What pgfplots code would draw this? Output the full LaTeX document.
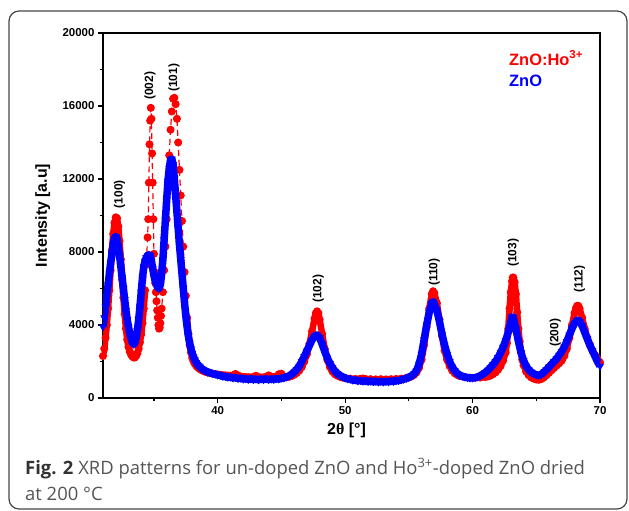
\documentclass[border=0pt]{standalone}
\usepackage{pgfplots}
\pgfplotsset{compat=1.18}
\usepackage{pgfplotstable}
\usepackage{fontspec}
\setmainfont{Liberation Sans}
\newfontfamily\serifgr{Liberation Serif}
\newfontfamily\capfont{Open Sans}
\definecolor{capgray}{RGB}{85,85,85}
\definecolor{figgray}{RGB}{50,50,50}
\definecolor{framegray}{RGB}{70,70,70}

\pgfplotstableread{
x y
31.0 2300
31.1 2700
31.2 3300
31.3 4000
31.4 4900
31.5 5900
31.6 7000
31.7 8100
31.8 9000
31.9 9600
32.0 9900
32.1 9850
32.2 9400
32.3 8600
32.4 7600
32.5 6500
32.6 5500
32.7 4600
32.8 3800
32.9 3200
33.0 2800
33.1 2550
33.2 2380
33.3 2280
33.4 2220
33.5 2220
33.6 2300
33.7 2450
33.8 2700
33.9 3050
34.0 3500
34.1 4100
34.2 4900
34.3 5900
34.4 7300
34.5 8800
34.55 9800
34.6 11800
34.65 13900
34.7 15200
34.75 15900
34.8 15300
34.85 13400
34.9 11800
34.95 9800
35.0 7900
35.05 6900
35.1 6300
35.15 5800
35.2 5300
35.25 4800
35.3 4400
35.35 4000
35.4 3800
35.45 3850
35.5 4100
35.55 4500
35.6 4900
35.7 5800
35.8 7000
35.9 8300
36.0 9800
36.1 11600
36.2 13300
36.3 14700
36.4 15700
36.5 16400
36.6 16450
36.7 16100
36.8 15300
36.9 14000
37.0 12500
37.1 11100
37.2 9700
37.3 8300
37.4 6900
37.5 5600
37.6 4400
37.7 3500
37.8 2900
37.9 2500
38.0 2200
38.1 2020
38.2 1880
38.3 1780
38.4 1700
38.5 1640
38.6 1580
38.8 1500
39.0 1440
39.2 1400
39.4 1360
39.6 1340
39.8 1310
40.0 1290
40.2 1270
40.4 1250
40.6 1240
40.8 1230
41.0 1220
41.2 1250
41.4 1320
41.6 1230
41.8 1180
42.0 1160
42.2 1150
42.4 1140
42.6 1130
42.8 1150
43.0 1220
43.2 1150
43.4 1130
43.6 1130
43.8 1160
44.0 1240
44.2 1160
44.4 1150
44.6 1180
44.8 1300
45.0 1330
45.2 1180
45.4 1150
45.6 1160
45.8 1200
46.0 1270
46.2 1370
46.4 1500
46.6 1700
46.8 2000
47.0 2400
47.2 2950
47.4 3650
47.6 4350
47.7 4650
47.8 4750
47.9 4650
48.0 4300
48.2 3500
48.4 2700
48.6 2100
48.8 1700
49.0 1450
49.2 1300
49.4 1220
49.6 1160
49.8 1120
50.0 1090
50.4 1060
50.8 1040
51.2 1050
51.4 1070
51.6 1040
52.0 1030
52.4 1020
52.8 1030
53.2 1020
53.6 1030
54.0 1040
54.4 1060
54.8 1100
55.0 1130
55.2 1180
55.4 1260
55.6 1400
55.8 1650
56.0 2100
56.2 2900
56.4 3900
56.6 4900
56.8 5700
56.9 5850
57.0 5750
57.2 5200
57.4 4300
57.6 3400
57.8 2600
58.0 2100
58.2 1750
58.4 1500
58.6 1350
58.8 1260
59.0 1200
59.4 1150
59.8 1120
60.2 1110
60.6 1120
61.0 1150
61.2 1180
61.4 1230
61.6 1300
61.8 1400
62.0 1550
62.2 1750
62.4 2050
62.6 2500
62.7 3000
62.8 3800
62.9 4900
63.0 5800
63.1 6400
63.15 6600
63.2 6600
63.3 6350
63.4 5700
63.5 4700
63.6 3800
63.7 3100
63.8 2500
63.9 2100
64.0 1800
64.2 1450
64.4 1250
64.6 1130
64.8 1060
65.0 1010
65.2 1000
65.4 1040
65.6 1130
65.8 1250
66.0 1380
66.2 1520
66.4 1650
66.6 1780
66.8 1900
67.0 2050
67.2 2300
67.4 2700
67.6 3300
67.8 4000
68.0 4650
68.1 4900
68.2 5050
68.3 5050
68.4 4900
68.6 4400
68.8 3800
69.0 3300
69.2 2900
69.4 2600
69.6 2350
69.8 2150
70.0 1950
}\redtable

\pgfplotstableread{
x y
31.0 3900
31.1 4400
31.2 5000
31.3 5600
31.4 6200
31.5 6800
31.6 7400
31.7 7900
31.8 8400
31.9 8750
32.0 8850
32.1 8700
32.2 8300
32.3 7800
32.4 7200
32.5 6600
32.6 6000
32.7 5400
32.8 4800
32.9 4300
33.0 3900
33.1 3550
33.2 3250
33.3 3050
33.4 2950
33.5 3000
33.6 3300
33.7 3700
33.8 4300
33.9 5000
34.0 5800
34.1 6600
34.2 7200
34.3 7500
34.4 7700
34.5 7800
34.6 7850
34.7 7800
34.8 7500
34.9 7100
35.0 6700
35.1 6400
35.2 6200
35.3 6050
35.4 6000
35.5 6200
35.6 6800
35.7 7600
35.8 8700
35.9 9800
36.0 10900
36.1 11900
36.2 12600
36.3 13050
36.4 13100
36.5 12800
36.6 12000
36.7 11100
36.8 10200
36.9 9300
37.0 8400
37.1 7600
37.2 6800
37.3 6000
37.4 5200
37.5 4500
37.6 3900
37.7 3400
37.8 3000
37.9 2700
38.0 2450
38.1 2250
38.2 2100
38.3 1950
38.4 1850
38.5 1770
38.6 1700
38.8 1580
39.0 1500
39.2 1430
39.4 1390
39.6 1330
39.8 1310
40.0 1260
40.2 1240
40.4 1190
40.6 1180
40.8 1140
41.0 1150
41.2 1100
41.4 1120
41.6 1070
41.8 1090
42.0 1040
42.2 1060
42.4 1020
42.6 1050
42.8 1010
43.0 1040
43.2 1000
43.4 1040
43.6 1010
43.8 1050
44.0 1010
44.2 1040
44.4 1020
44.6 1060
44.8 1040
45.0 1090
45.2 1100
45.4 1160
45.6 1210
45.8 1300
46.0 1420
46.2 1560
46.4 1750
46.6 2000
46.8 2280
47.0 2580
47.2 2880
47.4 3180
47.6 3400
47.8 3450
48.0 3300
48.2 2950
48.4 2550
48.6 2200
48.8 1900
49.0 1660
49.2 1470
49.4 1330
49.6 1230
49.8 1160
50.0 1100
50.2 1050
50.4 1030
50.6 980
50.8 990
51.0 940
51.2 960
51.4 920
51.6 940
51.8 900
52.0 930
52.2 890
52.4 920
52.6 880
52.8 910
53.0 880
53.2 910
53.4 890
53.6 930
53.8 910
54.0 950
54.2 960
54.4 1000
54.6 1030
54.8 1080
55.0 1130
55.2 1210
55.4 1320
55.6 1500
55.8 1850
56.0 2400
56.2 3200
56.4 4000
56.6 4700
56.8 5200
56.9 5280
57.0 5150
57.2 4800
57.4 4200
57.6 3500
57.8 2900
58.0 2400
58.2 2000
58.4 1700
58.6 1500
58.8 1350
59.0 1250
59.2 1190
59.4 1150
59.6 1120
59.8 1100
60.0 1100
60.2 1120
60.4 1150
60.6 1220
60.8 1300
61.0 1400
61.2 1520
61.4 1660
61.6 1820
61.8 2000
62.0 2220
62.2 2480
62.4 2780
62.6 3150
62.8 3600
63.0 4150
63.1 4450
63.2 4400
63.4 3800
63.6 3100
63.8 2500
64.0 2050
64.2 1750
64.4 1550
64.6 1420
64.8 1330
65.0 1270
65.2 1250
65.4 1300
65.6 1420
65.8 1550
66.0 1700
66.2 1850
66.4 2000
66.6 2150
66.8 2350
67.0 2550
67.2 2800
67.4 3100
67.6 3450
67.8 3800
68.0 4100
68.2 4250
68.3 4270
68.4 4200
68.6 3950
68.8 3600
69.0 3250
69.2 2900
69.4 2600
69.6 2300
69.8 2000
70.0 1750
}\bluetable

\begin{document}
\begin{tikzpicture}
\path[use as bounding box] (0bp,0bp) rectangle (629bp,-511bp);
\draw[framegray, line width=1.2bp, rounded corners=10bp] (9bp,-11bp) rectangle (627bp,-509bp);
\begin{axis}[
  at={(103bp,-398bp)}, anchor=south west,
  scale only axis, width=497bp, height=365bp,
  xmin=31, xmax=70, ymin=0, ymax=20000,
  axis line style={line width=1.6bp},
  xtick={40,50,60,70}, minor xtick={35,45,55,65},
  ytick={0,4000,8000,12000,16000,20000}, minor ytick={2000,6000,10000,14000,18000},
  tick pos=left, tick align=outside,
  major tick length=5bp, minor tick length=3bp,
  every tick/.style={black, line width=1.2bp},
  scaled y ticks=false,
  /pgf/number format/assume math mode=true,
  yticklabel style={/pgf/number format/.cd, fixed, 1000 sep={}},
  ticklabel style={font=\fontsize{11.5}{12}\selectfont\bfseries},
  xlabel={\bfseries 2{\serifgr θ} [°]},
  ylabel={\bfseries Intensity [a.u]},
  label style={font=\fontsize{16}{18}\selectfont},
  xlabel style={at={(axis description cs:0.49,-0.088)}, anchor=center},
  ylabel style={at={(axis description cs:-0.121,0.5)}, anchor=center},
  clip mode=individual,
]
\addplot[red, line width=6.5bp, line join=round, forget plot, restrict x to domain=31:34.3] table {\redtable};
\addplot[red, line width=6.5bp, line join=round, forget plot, restrict x to domain=37.6:70] table {\redtable};
\addplot[red, dashed, dash pattern=on 6bp off 4bp, line width=1.2bp, mark=*, mark size=3.4bp,
  mark options={solid, fill=red, draw=red}] table {\redtable};
\addplot[blue, line width=7.5bp, line join=round, forget plot] table {\bluetable};
\addplot[blue, only marks, mark=triangle*, mark size=4.2bp,
  mark options={rotate=180, fill=blue, draw=blue}] table {\bluetable};
\begin{scope}[every node/.style={rotate=90, anchor=west, font=\fontsize{12}{12}\selectfont\bfseries, inner sep=0pt}]
\node at (axis cs:32.3,10400) {(100)};
\node at (axis cs:34.7,16330) {(002)};
\node at (axis cs:36.57,16770) {(101)};
\node at (axis cs:47.9,5205) {(102)};
\node at (axis cs:57.0,6137) {(110)};
\node at (axis cs:63.2,7178) {(103)};
\node at (axis cs:66.5,2795) {(200)};
\node at (axis cs:68.4,5753) {(112)};
\end{scope}
\end{axis}
\node[anchor=base west, text=red, font=\fontsize{16.5}{18}\selectfont\bfseries, inner sep=0pt] at (509bp,-65bp) {ZnO:Ho\textsuperscript{3+}};
\node[anchor=base west, text=blue, font=\fontsize{16.5}{18}\selectfont\bfseries, inner sep=0pt] at (509bp,-86bp) {ZnO};
\node[anchor=base west, inner sep=0pt, text=capgray, font=\capfont\fontsize{18.5}{22}\selectfont] at (25bp,-474bp) {{\color{figgray}\bfseries Fig. 2} XRD patterns for un-doped ZnO and Ho\textsuperscript{3+}-doped ZnO dried};
\node[anchor=base west, inner sep=0pt, text=capgray, font=\capfont\fontsize{18.5}{22}\selectfont] at (25bp,-500bp) {at 200 °C};
\end{tikzpicture}
\end{document}
